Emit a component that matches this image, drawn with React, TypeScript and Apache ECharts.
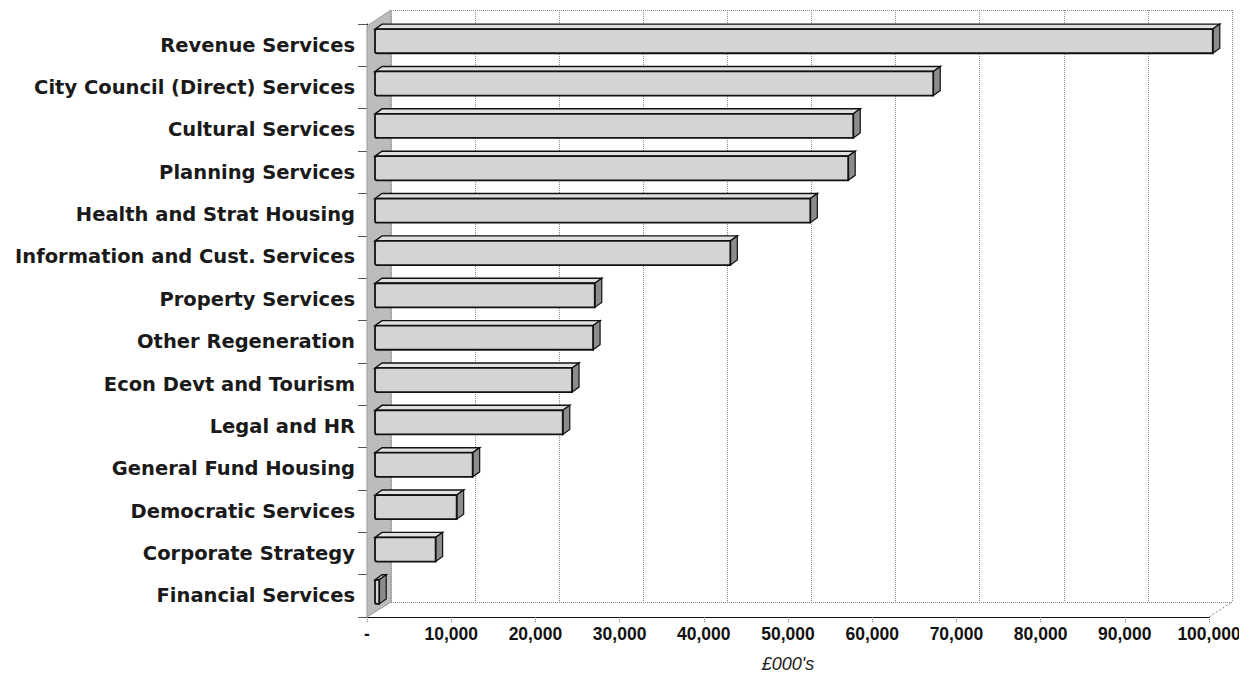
import React, { useEffect, useRef } from "react";
import * as echarts from "echarts";

const categories = [
  "Revenue Services",
  "City Council (Direct) Services",
  "Cultural Services",
  "Planning Services",
  "Health and Strat Housing",
  "Information and Cust. Services",
  "Property Services",
  "Other Regeneration",
  "Econ Devt and Tourism",
  "Legal and HR",
  "General Fund Housing",
  "Democratic Services",
  "Corporate Strategy",
  "Financial Services",
];

const values = [
  99500, 66300, 56800, 56200, 51700, 42200, 26100, 25900, 23400, 22300, 11600, 9700, 7200, 500,
];

const xTicks = [0, 10000, 20000, 30000, 40000, 50000, 60000, 70000, 80000, 90000, 100000];
const xAxisName = "£000's";

// layout (pixels)
const FRONT = { left: 367, right: 38, top: 24, bottom: 76 };
const BACK = { left: 391, right: 15, top: 10, bottom: 91 };

export default function App() {
  const ref = useRef<HTMLDivElement>(null);

  useEffect(() => {
    if (!ref.current) return;
    const chart = echarts.init(ref.current, undefined, { renderer: "svg" });
    const W = 1247;
    const H = 693;
    const fl = FRONT.left;
    const fb = H - FRONT.bottom;
    const bl = BACK.left;
    const bb = H - BACK.bottom;
    const fr = W - FRONT.right;
    const br = W - BACK.right;

    const option: any = {
      animation: false,
      backgroundColor: "#ffffff",
      grid: [
        { ...FRONT, containLabel: false },
        { ...BACK, containLabel: false },
      ],
      xAxis: [
        {
          type: "value",
          gridIndex: 0,
          min: xTicks[0],
          max: xTicks[xTicks.length - 1],
          interval: xTicks[1] - xTicks[0],
          axisLine: { show: true, lineStyle: { color: "#111", width: 1 } },
          axisTick: { show: true, length: 6, lineStyle: { color: "#777", type: "dotted" } },
          splitLine: { show: false },
          axisLabel: {
            margin: 8,
            color: "#111",
            fontFamily: "Liberation Sans, Arial, sans-serif",
            fontWeight: "bold",
            fontSize: 17.5,
            formatter: (v: number) => (v === 0 ? "-" : v.toLocaleString("en-US")),
          },
          name: xAxisName,
          nameLocation: "middle",
          nameGap: 38,
          nameTextStyle: {
            color: "#222",
            fontFamily: "Liberation Sans, Arial, sans-serif",
            fontStyle: "italic",
            fontSize: 18,
          },
        },
        {
          type: "value",
          gridIndex: 1,
          min: xTicks[0],
          max: xTicks[xTicks.length - 1],
          interval: xTicks[1] - xTicks[0],
          axisLine: { show: false },
          axisTick: { show: false },
          axisLabel: { show: false },
          splitLine: { show: true, lineStyle: { color: "#8a8a8a", type: "dotted", width: 1 } },
        },
      ],
      yAxis: [
        {
          type: "category",
          gridIndex: 0,
          data: categories,
          inverse: true,
          axisLine: { show: true, lineStyle: { color: "#222", width: 1 } },
          axisTick: { show: true, length: 9, lineStyle: { color: "#555" } },
          axisLabel: {
            margin: 12,
            color: "#1a1a1a",
            fontFamily: "DejaVu Sans, Verdana, sans-serif",
            fontWeight: "bold",
            fontSize: 19.5,
          },
        },
        {
          type: "value",
          gridIndex: 1,
          min: 0,
          max: 1,
          interval: 1,
          axisLine: { show: false },
          axisTick: { show: false },
          axisLabel: { show: false },
          splitLine: { show: true, lineStyle: { color: "#8a8a8a", type: "dotted", width: 1 } },
        },
      ],
      graphic: [
        {
          type: "polygon",
          z: 1,
          shape: { points: [[fl, fb], [fl, FRONT.top + 2], [bl, BACK.top], [bl, bb]] },
          style: { fill: "#bcbcbc", stroke: "#999", lineWidth: 1 },
        },
        {
          type: "line",
          z: 1,
          shape: { x1: fr, y1: fb, x2: br, y2: bb },
          style: { stroke: "#8a8a8a", lineDash: [2, 2], lineWidth: 1 },
        },
      ],
      series: [
        {
          type: "custom",
          xAxisIndex: 0,
          yAxisIndex: 0,
          z: 5,
          data: values.map((v, i) => [v, i]),
          encode: { x: 0, y: 1 },
          renderItem: (params: any, api: any) => {
            const v = api.value(0);
            const c = api.value(1);
            const p0 = api.coord([0, c]);
            const p1 = api.coord([v, c]);
            const band = api.size([0, 1])[1];
            const h = band * 0.57;
            const ox = 8;
            const oy = -4;
            const dx = 7;
            const dy = -5;
            const x0 = p0[0] + ox;
            const x1 = Math.max(p1[0] + ox, x0 + 2);
            const yc = p0[1] + oy;
            const yt = yc - h / 2;
            const yb = yc + h / 2;
            return {
              type: "group",
              children: [
                {
                  type: "polygon",
                  shape: { points: [[x0, yt], [x0 + dx, yt + dy], [x1 + dx, yt + dy], [x1, yt]] },
                  style: { fill: "#e0e0e0", stroke: "#111", lineWidth: 1.4 },
                },
                {
                  type: "polygon",
                  shape: { points: [[x1, yt], [x1 + dx, yt + dy], [x1 + dx, yb + dy], [x1, yb]] },
                  style: { fill: "#8c8c8c", stroke: "#111", lineWidth: 1.2 },
                },
                {
                  type: "rect",
                  shape: { x: x0, y: yt, width: x1 - x0, height: h, r: [2, 0, 0, 2] },
                  style: { fill: "#d4d4d4", stroke: "#111", lineWidth: 1.8 },
                },
              ],
            };
          },
        },
      ],
    };

    chart.setOption(option);
    return () => chart.dispose();
  }, []);

  return <div ref={ref} style={{ width: 1247, height: 693, margin: -8 }} />;
}
